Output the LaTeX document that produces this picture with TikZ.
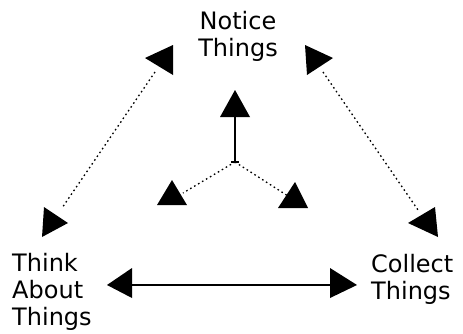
\documentclass[tikz,border=0pt]{standalone}
\usepackage{fontspec}
\setmainfont{DejaVu Sans}
\begin{document}
\begin{tikzpicture}[x=1pt,y=-1pt,
  lbl/.style={inner sep=0pt,align=left,font=\fontsize{24}{27}\selectfont},
  dotline/.style={line width=1.3pt,dash pattern=on 1.6pt off 3pt},
  solidline/.style={line width=1.5pt},
  head/.style={fill=black}]
\useasboundingbox (0,0) rectangle (463,333);
% labels
\node[lbl,anchor=north,align=center] (notice) at (238,11.5) {Notice\\Things};
\node[lbl,anchor=north west] (think) at (12,253) {Think\\About\\Things};
\node[lbl,anchor=north west] (collect) at (371,254) {Collect\\Things};
% connector end points
\coordinate (tl) at (155,72);
\coordinate (bl) at (62,208);
\coordinate (tr) at (323,72);
\coordinate (br) at (418,210);
\coordinate (c) at (235,162);
\coordinate (cu) at (235,116);
\coordinate (cl) at (183,193);
\coordinate (cr) at (288,196);
\coordinate (hl) at (130,285);
\coordinate (hr) at (332,285);
% connectors
\draw[dotline] (tl) -- (bl);
\draw[dotline] (tr) -- (br);
\draw[solidline] (c) -- (cu);
\draw[dotline] (c) -- (cl);
\draw[dotline] (c) -- (cr);
\draw[line width=1.5pt] (231,162) -- (239,162);
\draw[solidline] (hl) -- (hr);
% arrowheads
\fill[head] (173,45) -- (173,75) -- (145,58) -- cycle;
\fill[head] (305,45) -- (307,75) -- (333,58) -- cycle;
\fill[head] (44,207) -- (42,237) -- (68,223) -- cycle;
\fill[head] (435,207) -- (438,237) -- (408,223) -- cycle;
\fill[head] (235,90) -- (220,117) -- (250,117) -- cycle;
\fill[head] (172,180) -- (157,205) -- (187,205) -- cycle;
\fill[head] (295,182) -- (278,208) -- (308,208) -- cycle;
\fill[head] (107,285) -- (132,268) -- (132,298) -- cycle;
\fill[head] (357,285) -- (330,268) -- (330,298) -- cycle;
\end{tikzpicture}
\end{document}
